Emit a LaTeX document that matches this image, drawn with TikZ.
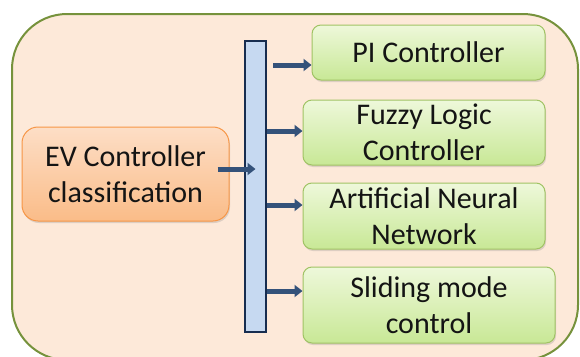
\documentclass[tikz,border=0pt]{standalone}
\usepackage{fontspec}
\setmainfont{Carlito}
\usetikzlibrary{arrows.meta,shadows}
\definecolor{outerfill}{RGB}{253,233,217}
\definecolor{outerline}{RGB}{118,146,60}
\definecolor{barfill}{RGB}{198,217,241}
\definecolor{barline}{RGB}{23,45,80}
\definecolor{gtop}{RGB}{238,248,218}
\definecolor{gbot}{RGB}{200,232,150}
\definecolor{gline}{RGB}{160,195,100}
\definecolor{otop}{RGB}{253,222,198}
\definecolor{obot}{RGB}{250,188,136}
\definecolor{oline}{RGB}{247,150,70}
\definecolor{arrcol}{RGB}{52,82,122}
\definecolor{txt}{RGB}{20,20,20}
\tikzset{
  gbox/.style={rounded corners=9pt, draw=gline, line width=1pt, top color=gtop, bottom color=gbot,
    align=center, font=\fontsize{30}{36}\selectfont, text=txt, inner sep=0pt,
    drop shadow={shadow xshift=1pt, shadow yshift=-2pt, opacity=0.25}},
  obox/.style={rounded corners=16pt, draw=oline, line width=1pt, top color=otop, bottom color=obot,
    align=center, font=\fontsize{30}{36}\selectfont, text=txt, inner sep=0pt,
    drop shadow={shadow xshift=1pt, shadow yshift=-2pt, opacity=0.25}},
  arr/.style={draw=arrcol, line width=5pt, -{Triangle[length=8pt,width=12pt]}},
}
\begin{document}
\begin{tikzpicture}[x=1pt,y=-1pt]
\useasboundingbox (0,0) rectangle (580,356);
\clip (0,0) rectangle (580,356);
\draw[fill=outerfill, draw=outerline, line width=2pt, rounded corners=55pt] (12,14) rectangle (578,360);
\node[draw=barline, fill=barfill, line width=2pt, minimum width=21pt, minimum height=291pt, inner sep=0pt] (bar) at (255.5,186.5) {};
\node[obox, minimum width=207pt, minimum height=94pt] (ev) at (125.5,174) {EV Controller\\classification};
\node[gbox, minimum width=233pt, minimum height=55pt] (pi) at (428.5,52.5) {PI Controller};
\node[gbox, minimum width=242pt, minimum height=65pt] (fz) at (424,132.5) {Fuzzy Logic\\Controller};
\node[gbox, minimum width=242pt, minimum height=66pt] (ann) at (424,216) {Artificial Neural\\Network};
\node[gbox, minimum width=252pt, minimum height=76pt] (sm) at (429,305) {Sliding mode\\control};
\coordinate (e1) at ([yshift=-12.5pt]pi.west);
\coordinate (e2) at ([yshift=1.5pt]fz.west);
\coordinate (e3) at ([yshift=11pt]ann.west);
\coordinate (e4) at ([yshift=14pt]sm.west);
\coordinate (e0) at ([yshift=5pt]ev.east -| bar.center);
\draw[arr] ([xshift=-12pt,yshift=5pt]ev.east) -- (e0);
\draw[arr] ([xshift=6pt]bar.east |- e1) -- (e1);
\draw[arr] (bar.east |- e2) -- (e2);
\draw[arr] (bar.east |- e3) -- (e3);
\draw[arr] (bar.east |- e4) -- (e4);
\end{tikzpicture}
\end{document}
